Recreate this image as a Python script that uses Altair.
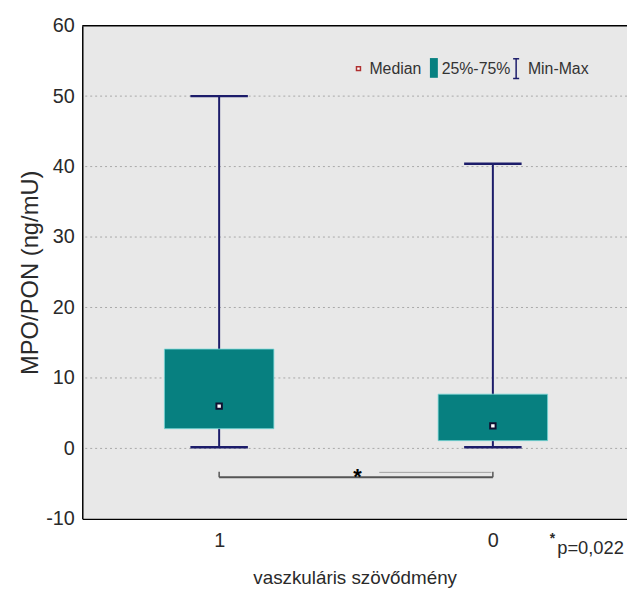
import altair as alt
import pandas as pd

# ---- data ----
groups = ["1", "0"]
xpos = [1, 2]
mins = [0.15, 0.15]
q1 = [2.8, 1.1]
medians = [6.0, 3.2]
q3 = [14.1, 7.7]
maxs = [50.0, 40.4]

y_ticks = [-10, 0, 10, 20, 30, 40, 50, 60]
p_text = "p=0,022"
bracket_y = -4.1

BOX_HALF = 0.2
CAP_HALF = 0.105

df = pd.DataFrame({"g": groups, "x": xpos, "mn": mins, "q1": q1,
                   "med": medians, "q3": q3, "mx": maxs})
df["xl"] = df["x"] - BOX_HALF
df["xr"] = df["x"] + BOX_HALF
df["cl"] = df["x"] - CAP_HALF
df["cr"] = df["x"] + CAP_HALF

xs = alt.Scale(domain=[0.5, 2.49], nice=False, zero=False)
ys = alt.Scale(domain=[-10, 60], nice=False, zero=False)

FONT = "Liberation Sans"
NAVY = "#1c1c6a"
TEAL = "#078080"
TXT = "#2a2a2a"

base = alt.Chart(df)

xaxis = alt.Axis(values=[1, 2], labelExpr="datum.value == 1 ? '1' : '0'",
                 title="vaszkuláris szövődmény", grid=False, ticks=False,
                 domainColor="black", domainWidth=1.5, labelFontSize=20,
                 labelColor=TXT, labelPadding=12, labelFont=FONT,
                 titleFont=FONT, titleFontSize=19, titleFontWeight="normal",
                 titleColor=TXT, titleY=59, titleBaseline="middle")
yaxis = alt.Axis(values=y_ticks, title="MPO/PON (ng/mU)", grid=False,
                 labelExpr="toString(datum.value)",
                 ticks=False, domainColor="black", domainWidth=1.5,
                 labelFontSize=20, labelColor=TXT, labelPadding=8,
                 labelFont=FONT, titleFont=FONT, titleFontSize=24,
                 titleFontWeight="normal", titleColor=TXT,
                 titleX=-52, titleY=249, titleBaseline="middle",
                 titleAlign="center")

# grid lines
grid_df = pd.DataFrame({"v": [0, 10, 20, 30, 40, 50]})
grid = alt.Chart(grid_df).mark_rule(color="#a8a8a8", strokeDash=[2, 3],
                                    strokeWidth=1).encode(
    y=alt.Y("v:Q", scale=ys, axis=yaxis))

# top border
top = alt.Chart(pd.DataFrame({"v": [60]})).mark_rule(
    color="black", strokeWidth=1.5).encode(y=alt.Y("v:Q", scale=ys))

whisk = base.mark_rule(color=NAVY, strokeWidth=2).encode(
    x=alt.X("x:Q", scale=xs, axis=xaxis),
    y=alt.Y("mn:Q", scale=ys), y2="mx:Q")
cap_hi = base.mark_rule(color=NAVY, strokeWidth=2.5).encode(
    x=alt.X("cl:Q", scale=xs), x2="cr:Q", y=alt.Y("mx:Q", scale=ys))
cap_lo = base.mark_rule(color=NAVY, strokeWidth=2.5).encode(
    x=alt.X("cl:Q", scale=xs), x2="cr:Q", y=alt.Y("mn:Q", scale=ys))
box = base.mark_rect(color=TEAL, stroke="#7ad8d8", strokeWidth=0.8).encode(
    x=alt.X("xl:Q", scale=xs), x2="xr:Q",
    y=alt.Y("q1:Q", scale=ys), y2="q3:Q")
med = base.mark_point(shape="square", filled=False, fill="white",
                      fillOpacity=1, color="#101030", strokeWidth=2,
                      size=30, opacity=1).encode(
    x=alt.X("x:Q", scale=xs), y=alt.Y("med:Q", scale=ys))

# significance bracket
br_df = pd.DataFrame({"x1": [xpos[0]], "x2": [xpos[1]], "y": [bracket_y],
                      "yt": [bracket_y + 0.8]})
bracket = alt.Chart(br_df).mark_rule(color="#555555", strokeWidth=2).encode(
    x=alt.X("x1:Q", scale=xs), x2="x2:Q", y=alt.Y("y:Q", scale=ys))
br_l = alt.Chart(br_df).mark_rule(color="#555555", strokeWidth=1.5).encode(
    x=alt.X("x1:Q", scale=xs), y=alt.Y("y:Q", scale=ys), y2="yt:Q")
br_r = alt.Chart(br_df).mark_rule(color="#555555", strokeWidth=1.5).encode(
    x=alt.X("x2:Q", scale=xs), y=alt.Y("y:Q", scale=ys), y2="yt:Q")
thin_df = pd.DataFrame({"a": [1.585], "b": [1.995], "y": [-3.4]})
thin = alt.Chart(thin_df).mark_rule(color="#a0a0a0", strokeWidth=1).encode(
    x=alt.X("a:Q", scale=xs), x2="b:Q", y=alt.Y("y:Q", scale=ys))
star_df = pd.DataFrame({"x": [1.505], "y": [-3.3], "t": ["*"]})
star = alt.Chart(star_df).mark_text(font=FONT, fontSize=22, fontWeight="bold",
                                    color="black", baseline="middle",
                                    dy=5).encode(
    x=alt.X("x:Q", scale=xs), y=alt.Y("y:Q", scale=ys), text="t:N")

# p-value note below the plot
p_df = pd.DataFrame({"x": [2.235], "y": [-14.1], "t": [p_text]})
ptxt = alt.Chart(p_df).mark_text(font=FONT, fontSize=18.5, color=TXT,
                                 align="left", baseline="middle").encode(
    x=alt.X("x:Q", scale=xs), y=alt.Y("y:Q", scale=ys), text="t:N")
pstar_df = pd.DataFrame({"x": [2.218], "y": [-12.8], "t": ["*"]})
pstar = alt.Chart(pstar_df).mark_text(font=FONT, fontSize=14, color=TXT,
                                      fontWeight="bold",
                                      align="center", baseline="middle").encode(
    x=alt.X("x:Q", scale=xs), y=alt.Y("y:Q", scale=ys), text="t:N")

# manual legend
leg_y = 53.9
leg_txt = pd.DataFrame({"x": [1.549, 1.813, 2.128],
                        "y": [leg_y] * 3,
                        "t": ["Median", "25%-75%", "Min-Max"]})
ltext = alt.Chart(leg_txt).mark_text(font=FONT, fontSize=16, color="#333",
                                     align="left", baseline="middle").encode(
    x=alt.X("x:Q", scale=xs), y=alt.Y("y:Q", scale=ys), text="t:N")
lmed = alt.Chart(pd.DataFrame({"x": [1.509], "y": [leg_y]})).mark_point(
    shape="square", filled=False, fill="white", fillOpacity=1,
    color="#b03030", strokeWidth=1.5, size=16, opacity=1).encode(
    x=alt.X("x:Q", scale=xs), y=alt.Y("y:Q", scale=ys))
lbox = alt.Chart(pd.DataFrame({"a": [1.770], "b": [1.799],
                               "y1": [52.6], "y2": [55.4]})).mark_rect(
    color=TEAL).encode(x=alt.X("a:Q", scale=xs), x2="b:Q",
                       y=alt.Y("y1:Q", scale=ys), y2="y2:Q")
lI_df = pd.DataFrame({"x": [2.085], "l": [2.074], "r": [2.096],
                      "y1": [52.5], "y2": [55.3]})
lI = alt.Chart(lI_df).mark_rule(color=NAVY, strokeWidth=1.5).encode(
    x=alt.X("x:Q", scale=xs), y=alt.Y("y1:Q", scale=ys), y2="y2:Q")
lI_t = alt.Chart(lI_df).mark_rule(color=NAVY, strokeWidth=1.5).encode(
    x=alt.X("l:Q", scale=xs), x2="r:Q", y=alt.Y("y2:Q", scale=ys))
lI_b = alt.Chart(lI_df).mark_rule(color=NAVY, strokeWidth=1.5).encode(
    x=alt.X("l:Q", scale=xs), x2="r:Q", y=alt.Y("y1:Q", scale=ys))

chart = alt.layer(
    grid, top, whisk, cap_hi, cap_lo, box, med,
    thin, bracket, br_l, br_r, star, ptxt, pstar,
    ltext, lmed, lbox, lI, lI_t, lI_b
).properties(
    width=550, height=498,
    autosize=alt.AutoSizeParams(type="none"),
    padding={"left": 75, "top": 15, "right": 0, "bottom": 70},
    background="white",
).configure_view(stroke=None, fill="#e8e8e8")

chart.save("out.html", embed_options={"renderer": "svg", "actions": False})
